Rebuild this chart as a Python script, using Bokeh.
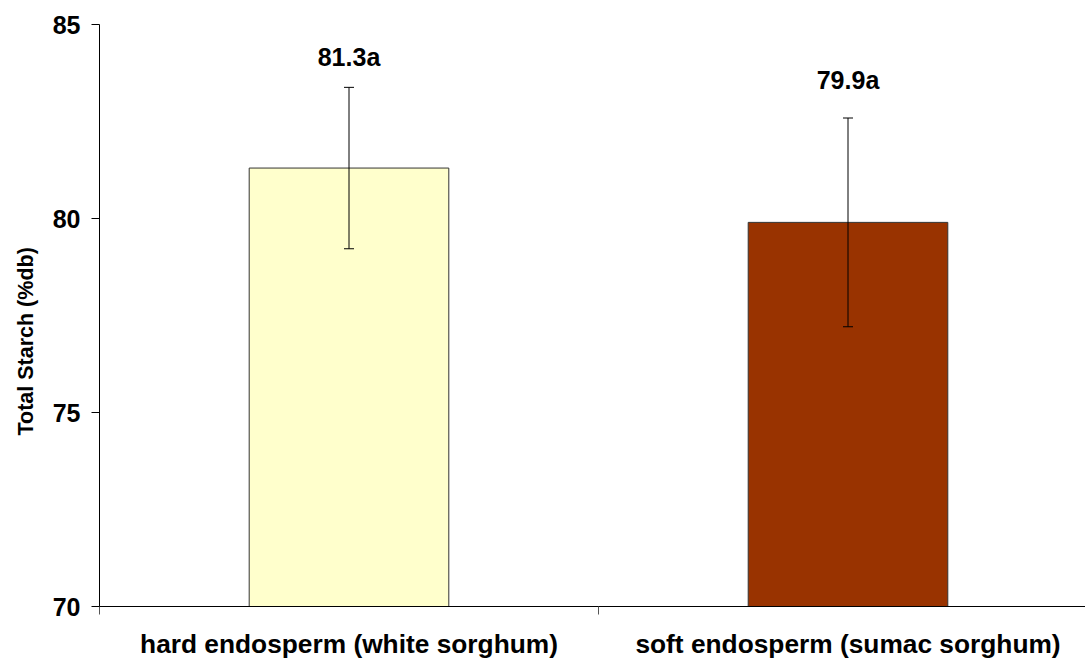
from bokeh.plotting import figure
from bokeh.models import ColumnDataSource, Range1d, FixedTicker, Whisker, TeeHead, LabelSet, Title
from bokeh.core.properties import value
from bokeh.embed import file_html
from bokeh.resources import INLINE

# ---- data ----
categories = ["hard endosperm (white sorghum)", "soft endosperm (sumac sorghum)"]
values = [81.3, 79.9]
errors = [2.08, 2.69]
labels = ["81.3a", "79.9a"]
label_heights = [84.16, 83.56]
colors = ["#FFFFCC", "#993300"]
y_ticks = [70, 75, 80, 85]
y_title = "Total Starch (%db)"

xpos = [i + 0.5 for i in range(len(categories))]
src = ColumnDataSource(dict(
    x=xpos, top=values, color=colors,
    upper=[v + e for v, e in zip(values, errors)],
    lower=[v - e for v, e in zip(values, errors)],
    lab=labels, laby=label_heights,
))

FONT = "Liberation Sans"

p = figure(width=1085, height=661, output_backend="svg", toolbar_location=None,
           x_range=Range1d(0, 986 / 499), y_range=Range1d(70, 85),
           min_border_left=99, min_border_right=0, min_border_top=24, min_border_bottom=55)
p.outline_line_color = None
p.xgrid.grid_line_color = None
p.ygrid.grid_line_color = None
p.background_fill_color = "white"
p.border_fill_color = "white"

p.vbar(x="x", top="top", bottom=70, width=0.4, fill_color="color",
       line_color="#333333", line_width=1, source=src)

w = Whisker(base="x", upper="upper", lower="lower", source=src,
            line_color="black", line_width=1, level="overlay",
            upper_head=TeeHead(size=10, line_color="black", line_width=1),
            lower_head=TeeHead(size=10, line_color="black", line_width=1))
p.add_layout(w)

lbl = LabelSet(x="x", y="laby", text="lab", source=src, text_align="center",
               text_baseline="middle", text_font=value(FONT), text_font_style="bold",
               text_font_size="25px", text_color="black")
p.add_layout(lbl)

# y-axis title as a side title (allows shifting it along the axis)
ytitle = Title(text=y_title, align="left", offset=171, standoff=23,
               text_font=FONT, text_font_style="bold", text_font_size="21.5px",
               text_color="black")
p.add_layout(ytitle, "left")

# x axis
p.xaxis.ticker = FixedTicker(ticks=xpos, minor_ticks=[0, 1, 2])
p.xaxis.major_label_overrides = {x: c for x, c in zip(xpos, categories)}
p.xaxis.major_tick_out = 0
p.xaxis.major_tick_in = 0
p.xaxis.minor_tick_out = 8
p.xaxis.minor_tick_in = 0
p.xaxis.minor_tick_line_color = "#555555"
p.xaxis.axis_line_color = "black"
p.xaxis.major_label_text_font = FONT
p.xaxis.major_label_text_font_style = "bold"
p.xaxis.major_label_text_font_size = "26.3px"
p.xaxis.major_label_text_color = "black"
p.xaxis.major_label_standoff = 14

# y axis
p.yaxis.ticker = FixedTicker(ticks=y_ticks)
p.yaxis.minor_tick_line_color = None
p.yaxis.major_tick_out = 8
p.yaxis.major_tick_in = 0
p.yaxis.axis_line_color = "black"
p.yaxis.major_tick_line_color = "black"
p.yaxis.major_label_text_font = FONT
p.yaxis.major_label_text_font_style = "bold"
p.yaxis.major_label_text_font_size = "25px"
p.yaxis.major_label_text_color = "black"
p.yaxis.major_label_standoff = 11

open("out.html", "w").write(file_html(p, INLINE))
